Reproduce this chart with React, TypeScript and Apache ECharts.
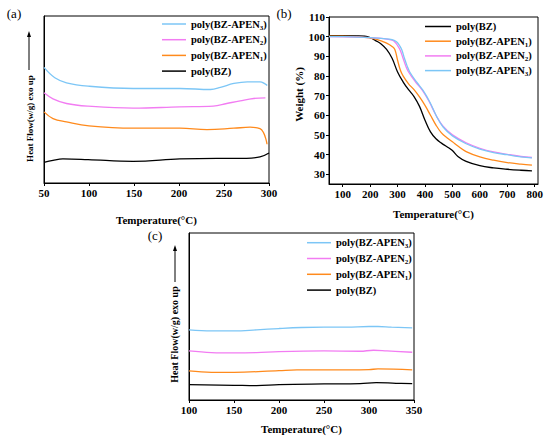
import React, { useEffect, useRef } from 'react';
import * as echarts from 'echarts';

const FONT = "'Liberation Serif', 'Times New Roman', serif";
const seriesNames = ['poly(BZ)', 'poly(BZ-APEN1)', 'poly(BZ-APEN2)', 'poly(BZ-APEN3)'];
const colors = ['#000000', '#FF8A1C', '#F27CF2', '#7CC6F6'];

// (a) DSC, first heating (arbitrary heat-flow units)
const aBZ_T = [50, 60, 71, 99, 149, 201, 242, 275, 290, 300];
const aBZ_V = [12.4, 13.6, 14.4, 14.0, 13.0, 14.4, 14.8, 14.8, 15.6, 18.0];
const aAPEN1_T = [50, 60, 75, 100, 149, 201, 231, 261, 279, 290, 294, 296.7, 297.8];
const aAPEN1_V = [42.6, 38.6, 36.6, 34.2, 32.8, 32.8, 32.0, 32.8, 33.4, 32.6, 30.0, 26.0, 23.2];
const aAPEN2_T = [50, 60, 75, 99, 149, 201, 238, 253, 268, 283, 296];
const aAPEN2_V = [54.0, 50.4, 47.6, 46.0, 44.8, 45.6, 46.0, 47.6, 49.2, 50.6, 51.0];
const aAPEN3_T = [50, 62, 75, 99, 149, 201, 235, 246, 261, 276, 290, 296, 298];
const aAPEN3_V = [69.2, 63.0, 60.0, 58.0, 56.6, 56.6, 56.0, 57.2, 59.6, 60.6, 60.6, 59.2, 58.4];

// (b) TGA, weight (%)
const bBZ_T = [50, 100, 150, 180, 200, 220, 240, 260, 280, 300, 320, 340, 360, 380, 400, 420, 440, 460, 480, 500, 520, 550, 600, 650, 700, 750, 790];
const bBZ_V = [100.5, 100.5, 100.4, 100.2, 99.5, 98.0, 96.3, 93.5, 89.0, 82.0, 77.0, 73.0, 69.5, 64.5, 57.5, 51.5, 48.0, 45.8, 44.0, 42.0, 39.0, 36.5, 34.3, 33.2, 32.5, 32.0, 31.7];
const bAPEN1_T = [50, 100, 150, 200, 220, 240, 260, 280, 290, 300, 310, 320, 340, 360, 380, 400, 420, 440, 460, 480, 500, 520, 550, 600, 650, 700, 750, 790];
const bAPEN1_V = [100.2, 100.2, 100.0, 99.3, 98.8, 97.8, 96.7, 95.0, 93.5, 88.0, 83.0, 80.0, 76.0, 73.0, 69.3, 65.0, 60.0, 55.0, 51.0, 48.5, 46.5, 44.3, 41.5, 38.8, 37.1, 35.9, 35.1, 34.6];
const bAPEN2_T = [50, 150, 200, 250, 280, 290, 300, 310, 320, 330, 340, 365, 390, 415, 440, 465, 500, 550, 600, 650, 700, 750, 790];
const bAPEN2_V = [100.0, 99.8, 99.5, 99.0, 98.2, 97.3, 95.5, 93.0, 89.0, 85.0, 82.0, 77.0, 72.8, 67.0, 60.0, 54.5, 50.0, 46.0, 43.2, 41.3, 40.1, 39.0, 38.5];
const bAPEN3_T = [50, 100, 150, 200, 250, 280, 295, 305, 315, 325, 335, 345, 370, 393, 418, 442, 466, 500, 550, 600, 650, 700, 750, 790];
const bAPEN3_V = [100.0, 100.0, 99.8, 99.5, 99.0, 98.5, 97.5, 96.0, 93.5, 89.0, 85.0, 81.9, 76.8, 72.6, 66.6, 59.5, 54.0, 49.5, 45.5, 42.8, 41.0, 39.9, 38.8, 38.3];

// (c) DSC, second heating
const cBZ_T = [100, 150, 175, 200, 250, 290, 308, 330, 348];
const cBZ_V = [9.2, 8.8, 8.6, 9.2, 9.6, 9.8, 10.4, 10.0, 9.8];
const cAPEN1_T = [100, 125, 150, 200, 220, 250, 300, 310, 348];
const cAPEN1_V = [17.4, 16.6, 16.6, 17.6, 18.0, 18.0, 18.2, 18.6, 18.0];
const cAPEN2_T = [100, 125, 150, 175, 200, 250, 290, 305, 320, 348];
const cAPEN2_V = [29.4, 28.4, 28.2, 28.4, 29.0, 29.4, 29.2, 29.8, 29.4, 28.6];
const cAPEN3_T = [100, 125, 150, 175, 200, 225, 250, 275, 300, 310, 325, 348];
const cAPEN3_V = [42.0, 41.4, 41.4, 42.0, 42.8, 43.4, 43.6, 43.6, 44.0, 44.0, 43.6, 43.2];

const bXTicks = [100, 200, 300, 400, 500, 600, 700, 800];
const bYTicks = [30, 40, 50, 60, 70, 80, 90, 100, 110];

const legendA = ['poly(BZ-APEN3)', 'poly(BZ-APEN2)', 'poly(BZ-APEN1)', 'poly(BZ)'];
const legendB = ['poly(BZ)', 'poly(BZ-APEN1)', 'poly(BZ-APEN2)', 'poly(BZ-APEN3)'];

const zip = (t: number[], v: number[]) => t.map((x, i) => [x, v[i]]);

export default function App() {
  const ref = useRef<HTMLDivElement>(null);
  useEffect(() => {
    if (!ref.current) return;
    const chart = echarts.init(ref.current, undefined, { renderer: 'svg' });

    const labelStyle = { fontFamily: FONT, fontWeight: 'bold' as const, fontSize: 11, color: '#000' };
    const nameStyle = { fontFamily: FONT, fontWeight: 'bold' as const, fontSize: 11, color: '#000' };
    const axisLine = { show: true, onZero: false, lineStyle: { color: '#000', width: 1 } };
    const tick = { show: true, inside: false, length: 3, lineStyle: { color: '#000', width: 1 } };

    const legend = (left: number, top: number, gap: number, itemWidth: number, data: string[]) => ({
      orient: 'vertical',
      left,
      top,
      padding: 0,
      itemGap: gap,
      itemWidth,
      itemHeight: 1.5,
      icon: 'rect',
      selectedMode: false,
      data,
      formatter: (n: string) => n.replace(/APEN(\d)/, 'APEN{s|$1}'),
      textStyle: {
        fontFamily: FONT,
        fontWeight: 'bold',
        fontSize: 10.5,
        color: '#000',
        lineHeight: 14,
        rich: {
          s: { fontFamily: FONT, fontWeight: 'bold', fontSize: 7, color: '#000', verticalAlign: 'bottom', lineHeight: 8 },
        },
      },
    });

    const groups = [
      [zip(aBZ_T, aBZ_V), zip(aAPEN1_T, aAPEN1_V), zip(aAPEN2_T, aAPEN2_V), zip(aAPEN3_T, aAPEN3_V)],
      [zip(bBZ_T, bBZ_V), zip(bAPEN1_T, bAPEN1_V), zip(bAPEN2_T, bAPEN2_V), zip(bAPEN3_T, bAPEN3_V)],
      [zip(cBZ_T, cBZ_V), zip(cAPEN1_T, cAPEN1_V), zip(cAPEN2_T, cAPEN2_V), zip(cAPEN3_T, cAPEN3_V)],
    ];
    const series: any[] = [];
    groups.forEach((g, gi) => {
      g.forEach((d, si) => {
        series.push({
          type: 'line',
          name: seriesNames[si],
          xAxisIndex: gi,
          yAxisIndex: gi,
          data: d,
          symbol: 'none',
          showSymbol: false,
          smooth: 0.4,
          color: colors[si],
          lineStyle: { color: colors[si], width: 1.3 },
        });
      });
    });

    chart.setOption({
      animation: false,
      grid: [
        { left: 44, top: 16, width: 225, height: 167, show: true, borderColor: '#000', borderWidth: 1, containLabel: false },
        { left: 329, top: 17, width: 209, height: 167, show: true, borderColor: '#000', borderWidth: 1, containLabel: false },
        { left: 189, top: 233, width: 225, height: 167, show: true, borderColor: '#000', borderWidth: 1, containLabel: false },
      ],
      xAxis: [
        {
          gridIndex: 0, type: 'value', min: 50, max: 300, interval: 50,
          axisLine, axisTick: tick, splitLine: { show: false },
          axisLabel: { ...labelStyle, margin: 4 },
          name: 'Temperature(°C)', nameLocation: 'middle', nameGap: 31, nameTextStyle: nameStyle,
        },
        {
          gridIndex: 1, type: 'value', min: 50, max: 812,
          axisLine, axisTick: { ...tick, customValues: bXTicks }, splitLine: { show: false },
          axisLabel: { ...labelStyle, margin: 4, customValues: bXTicks },
          name: 'Temperature(°C)', nameLocation: 'middle', nameGap: 24, nameTextStyle: nameStyle,
        },
        {
          gridIndex: 2, type: 'value', min: 100, max: 350, interval: 50,
          axisLine, axisTick: tick, splitLine: { show: false },
          axisLabel: { ...labelStyle, margin: 4 },
          name: 'Temperature(°C)', nameLocation: 'middle', nameGap: 23, nameTextStyle: nameStyle,
        },
      ],
      yAxis: [
        {
          gridIndex: 0, type: 'value', min: 0, max: 100,
          axisLine, axisTick: { show: false }, axisLabel: { show: false }, splitLine: { show: false },
          name: 'Heat Flow(w/g) exo up', nameLocation: 'middle', nameGap: 10,
          nameTextStyle: { ...nameStyle, fontSize: 9, padding: [0, 38, 0, 0] },
        },
        {
          gridIndex: 1, type: 'value', min: 25, max: 110,
          axisLine, axisTick: { ...tick, customValues: bYTicks }, splitLine: { show: false },
          axisLabel: { ...labelStyle, margin: 4, customValues: bYTicks },
          name: 'Weight (%)', nameLocation: 'middle', nameGap: 24,
          nameTextStyle: { ...nameStyle, padding: [0, 0, 0, 12] },
        },
        {
          gridIndex: 2, type: 'value', min: 0, max: 100,
          axisLine, axisTick: { show: false }, axisLabel: { show: false }, splitLine: { show: false },
          name: 'Heat Flow(w/g) exo up', nameLocation: 'middle', nameGap: 10,
          nameTextStyle: { ...nameStyle, fontSize: 10, padding: [0, 36, 0, 0] },
        },
      ],
      legend: [
        legend(162, 17, 1.7, 24, legendA),
        legend(425, 19.5, 0.7, 26, legendB),
        legend(307, 235.7, 1.8, 24, legendA),
      ],
      graphic: [
        { type: 'text', x: 14, y: 13, style: { text: '(a)', font: `13px ${FONT}`, fill: '#000', align: 'center', verticalAlign: 'middle' } },
        { type: 'text', x: 284, y: 13, style: { text: '(b)', font: `13px ${FONT}`, fill: '#000', align: 'center', verticalAlign: 'middle' } },
        { type: 'text', x: 155, y: 235, style: { text: '(c)', font: `13px ${FONT}`, fill: '#000', align: 'center', verticalAlign: 'middle' } },
        { type: 'line', shape: { x1: 29, y1: 70, x2: 29, y2: 35 }, style: { stroke: '#000', lineWidth: 1 } },
        { type: 'polygon', shape: { points: [[29, 31], [27, 37], [31, 37]] }, style: { fill: '#000' } },
        { type: 'line', shape: { x1: 175, y1: 282, x2: 175, y2: 249 }, style: { stroke: '#000', lineWidth: 1 } },
        { type: 'polygon', shape: { points: [[175, 245], [173, 251], [177, 251]] }, style: { fill: '#000' } },
      ],
      series,
    });
    return () => chart.dispose();
  }, []);
  return <div ref={ref} style={{ position: 'fixed', left: 0, top: 0, width: 550, height: 439, background: '#fff' }} />;
}
